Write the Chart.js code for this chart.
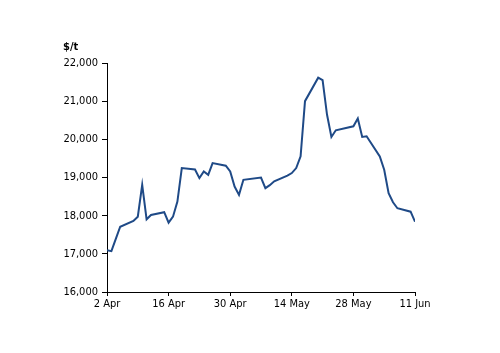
<!DOCTYPE html>
<html>
<head>
<meta charset="utf-8">
<script src="https://cdn.jsdelivr.net/npm/chart.js@4"></script>
<style>
  html, body { margin: 0; padding: 0; background: #fff; }
  #wrap { width: 500px; height: 353px; }
</style>
</head>
<body>
<div id="wrap"><canvas id="chart" width="500" height="353"></canvas></div>
<script>
// trading days (2024) and price in $/t
const dates = [
  "2024-04-02", "2024-04-03", "2024-04-04", "2024-04-05", "2024-04-08", "2024-04-09",
  "2024-04-10", "2024-04-11", "2024-04-12", "2024-04-15", "2024-04-16", "2024-04-17",
  "2024-04-18", "2024-04-19", "2024-04-22", "2024-04-23", "2024-04-24", "2024-04-25",
  "2024-04-26", "2024-04-29", "2024-04-30", "2024-05-01", "2024-05-02", "2024-05-03",
  "2024-05-07", "2024-05-08", "2024-05-09", "2024-05-10", "2024-05-13", "2024-05-14",
  "2024-05-15", "2024-05-16", "2024-05-17", "2024-05-20", "2024-05-21", "2024-05-22",
  "2024-05-23", "2024-05-24", "2024-05-28", "2024-05-29", "2024-05-30", "2024-05-31",
  "2024-06-03", "2024-06-04", "2024-06-05", "2024-06-06", "2024-06-07", "2024-06-10",
  "2024-06-11"
];
const prices = [
  17097, 17071, 17390, 17710, 17860, 17974,
  18808, 17905, 18018, 18090, 17816, 17974,
  18368, 19247, 19211, 18984, 19158, 19071,
  19379, 19308, 19158, 18763, 18545, 18939,
  19000, 18721, 18800, 18900, 19050, 19116,
  19247, 19553, 21000, 21616, 21553, 20650,
  20063, 20237, 20342, 20545, 20063, 20079,
  19553, 19203, 18589, 18350, 18195, 18105,
  17842
];
const xTickLabels = ["2 Apr", "16 Apr", "30 Apr", "14 May", "28 May", "11 Jun"];
const unitLabel = "$/t";

const DAY = 86400000;
const start = Date.parse(dates[0]);
const points = dates.map((d, i) => ({ x: (Date.parse(d) - start) / DAY, y: prices[i] }));

const FONT = "'DejaVu Sans Condensed', 'DejaVu Sans', sans-serif";

// unit label above the y axis
const unitPlugin = {
  id: "unit",
  afterDraw(chart) {
    const ctx = chart.ctx;
    ctx.save();
    ctx.font = "bold 11px " + FONT;
    ctx.fillStyle = "#000";
    ctx.textAlign = "left";
    ctx.textBaseline = "alphabetic";
    ctx.fillText(unitLabel, 63, 50);
    ctx.restore();
  }
};

new Chart(document.getElementById("chart"), {
  type: "line",
  data: {
    datasets: [{
      data: points,
      borderColor: "#1f4a87",
      borderWidth: 2,
      pointRadius: 0,
      tension: 0,
      fill: false
    }]
  },
  options: {
    responsive: false,
    animation: false,
    layout: { padding: { top: 63, right: 85, bottom: 0, left: 0 } },
    plugins: { legend: { display: false }, tooltip: { enabled: false } },
    scales: {
      x: {
        type: "linear",
        min: 0,
        max: 70,
        afterFit(scale) { scale.height = 61; },
        ticks: {
          stepSize: 14,
          color: "#000",
          font: { family: FONT, size: 11 },
          padding: 2,
          maxRotation: 0,
          callback: (v) => xTickLabels[v / 14] || ""
        },
        grid: { drawOnChartArea: false, tickLength: 4, color: "#000" },
        border: { display: true, color: "#000", width: 1 }
      },
      y: {
        min: 16000,
        max: 22000,
        afterFit(scale) { scale.width = 107; },
        ticks: {
          stepSize: 1000,
          color: "#000",
          font: { family: FONT, size: 11 },
          padding: 4,
          callback: (v) => v.toLocaleString("en-US")
        },
        grid: { drawOnChartArea: false, tickLength: 5, color: "#000" },
        border: { display: true, color: "#000", width: 1 }
      }
    }
  },
  plugins: [unitPlugin]
});
</script>
</body>
</html>
